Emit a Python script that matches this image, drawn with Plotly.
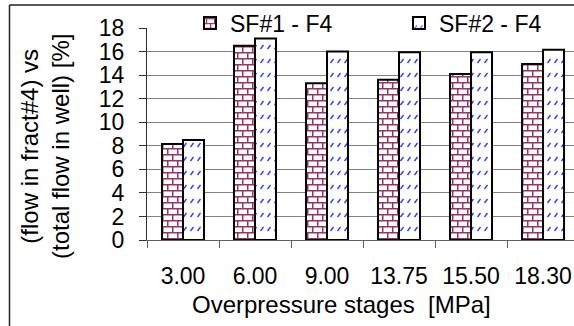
import plotly.graph_objects as go

# Overpressure stages [MPa] and share of well flow through fracture #4 [%]
stages = ["3.00", "6.00", "9.00", "13.75", "15.50", "18.30"]
sf1_f4 = [8.15, 16.5, 13.3, 13.6, 14.1, 14.95]
sf2_f4 = [8.5, 17.1, 16.0, 15.95, 15.95, 16.15]
y_ticks = list(range(0, 19, 2))

W, H = 574, 326
L, T, B = 147, 28, 86
PLOT_W = W - L
PLOT_H = H - T - B
FONT = "Liberation Sans, Arial, sans-serif"
FS = 23
FS_TITLE = 24
BRICK = "#993366"
DASH = "#2233ff"


def px_x(x):
    return (x - L) / PLOT_W


def px_y(y):
    return (T + PLOT_H - y) / PLOT_H


fig = go.Figure()
fig.add_bar(
    name="SF#1 - F4", x=stages, y=sf1_f4, legend="legend",
    marker=dict(
        color="white",
        line=dict(color="black", width=2),
        pattern=dict(shape="+", fgcolor=BRICK, bgcolor="white",
                     size=8, solidity=0.3),
    ),
)
fig.add_bar(
    name="SF#2 - F4", x=stages, y=sf2_f4, legend="legend2",
    marker=dict(
        color="white",
        line=dict(color="black", width=2),
        pattern=dict(shape="/", fgcolor=DASH, bgcolor="white",
                     size=9, solidity=0.2),
    ),
)

legend_style = dict(
    orientation="h", xanchor="left", yanchor="middle", y=px_y(23),
    bgcolor="rgba(0,0,0,0)", borderwidth=0,
    font=dict(family=FONT, size=FS, color="black"),
)

fig.update_layout(
    width=W, height=H,
    margin=dict(l=L, r=0, t=T, b=B, pad=0),
    paper_bgcolor="white", plot_bgcolor="white",
    barmode="group", bargap=0.417, bargroupgap=0,
    font=dict(family=FONT, size=FS, color="black"),
    showlegend=True,
    legend=dict(x=px_x(190), **legend_style),
    legend2=dict(x=px_x(399), **legend_style),
)

fig.update_xaxes(
    type="category", range=[-0.5, 5.43],
    showline=True, linecolor="#606060", linewidth=1,
    ticks="outside", ticklen=7, tickcolor="#606060", tickson="boundaries",
    ticklabelstandoff=15,
    showgrid=False, zeroline=False,
)
fig.update_yaxes(
    range=[0, 18], tickvals=y_ticks,
    showline=True, linecolor="#303030", linewidth=1,
    ticks="outside", ticklen=7, tickcolor="#303030",
    ticklabelstandoff=10,
    showgrid=True, gridcolor="#808080", gridwidth=1, zeroline=False,
)

# axis titles
fig.add_annotation(
    text="Overpressure stages  [MPa]", xref="paper", yref="paper",
    x=px_x(341), y=px_y(304), xanchor="center", yanchor="middle",
    showarrow=False, font=dict(family=FONT, size=FS_TITLE),
)
fig.add_annotation(
    text="(flow in fract#4) vs<br>(total flow in well) [%]",
    xref="paper", yref="paper", x=px_x(45), y=px_y(147),
    xanchor="center", yanchor="middle", textangle=-90,
    showarrow=False, font=dict(family=FONT, size=FS_TITLE),
)

# white legend backdrop over the top gridline
fig.add_shape(type="rect", xref="paper", yref="paper", layer="above",
              x0=px_x(163), x1=px_x(W + 2), y0=px_y(34), y1=px_y(12),
              fillcolor="white", line=dict(width=0))

# chart frame (left and top edges)
frame = dict(type="line", xref="paper", yref="paper",
             line=dict(color="#222222", width=1.5), layer="above")
fig.add_shape(**frame, x0=px_x(9.5), x1=px_x(9.5), y0=px_y(5), y1=px_y(H + 2))
fig.add_shape(**frame, x0=px_x(9.5), x1=px_x(W + 2), y0=px_y(5), y1=px_y(5))

# brick and dashed-diagonal fill tiles for the two series
post_js = """
(function () {
  function norm(c) { return (c || '').replace(/\\s/g, '').toLowerCase(); }
  function setTile(p, w, h, d, color, sw) {
    p.setAttribute('width', w);
    p.setAttribute('height', h);
    var rect = p.querySelector('rect');
    if (rect) { rect.setAttribute('width', w); rect.setAttribute('height', h); }
    var path = p.querySelector('path');
    path.setAttribute('d', d);
    path.setAttribute('opacity', 1);
    path.setAttribute('fill', 'none');
    path.style.fill = 'none';
    path.style.stroke = color;
    path.setAttribute('stroke', color);
    path.style.strokeWidth = sw + 'px';
    path.setAttribute('stroke-width', sw);
  }
  document.querySelectorAll('pattern').forEach(function (p) {
    var path = p.querySelector('path');
    if (!path) return;
    var c = norm(path.getAttribute('stroke') || path.style.stroke ||
                 path.getAttribute('fill') || path.style.fill);
    if (c === 'rgb(153,51,102)' || c === '#993366') {
      setTile(p, 10, 12,
        'M0,0.75H10M0,6.75H10M0.75,0.75V6.75M5.75,6.75V12.75',
        'rgb(153,51,102)', 1.5);
    } else if (c === 'rgb(34,51,255)' || c === '#2233ff') {
      setTile(p, 7, 14, 'M1.5,7L4.5,3', 'rgb(34,51,255)', 1.3);
    }
  });
})();
"""

fig.write_html("out.html", post_script=post_js)
